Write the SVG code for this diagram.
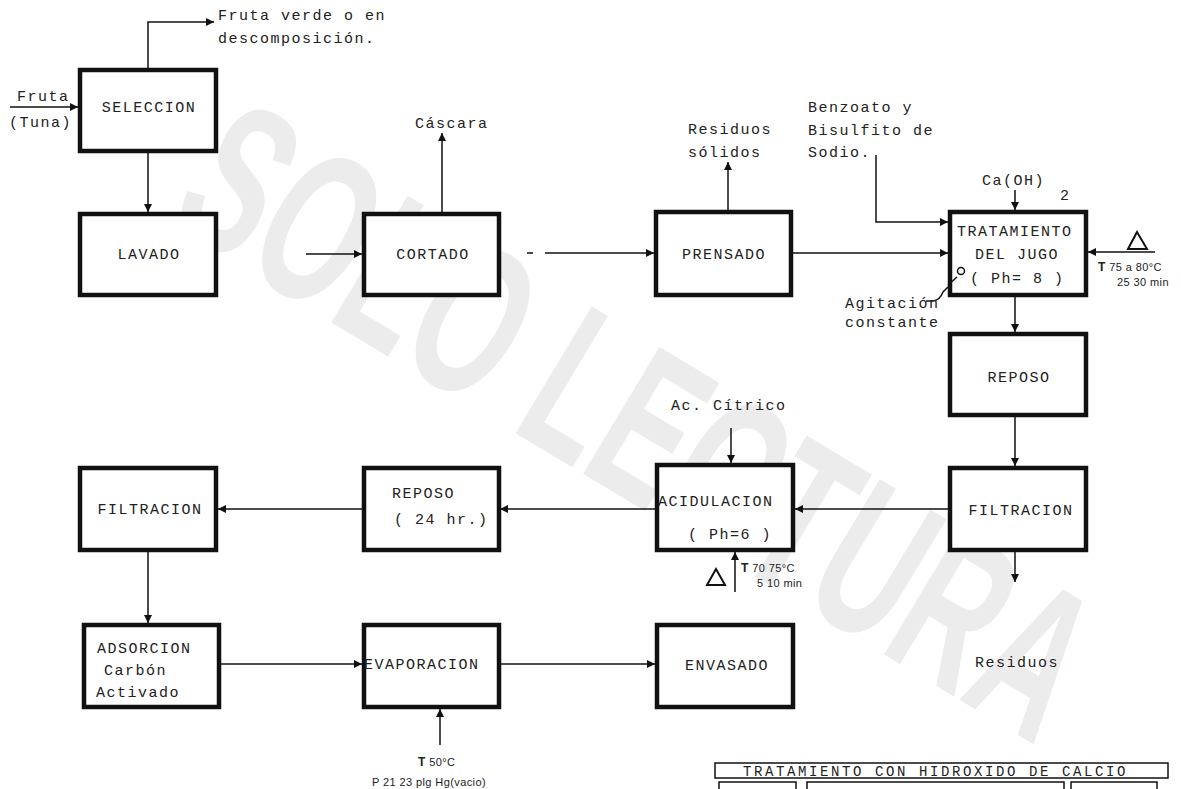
<svg xmlns="http://www.w3.org/2000/svg" width="1181" height="789" viewBox="0 0 1181 789">
<style>
.box{fill:#fff;stroke:#111;stroke-width:4.5}
.ln{fill:none;stroke:#111;stroke-width:1.5}
.t{font-family:"Liberation Mono","Courier New",monospace;font-size:15px;letter-spacing:1.5px;fill:#222}
.m{text-anchor:middle}
.s{font-family:"Liberation Sans",Arial,sans-serif;font-size:11px;letter-spacing:0.4px;fill:#222}
.wm{font-family:"Liberation Sans",Arial,sans-serif;font-weight:bold;font-size:215px;fill:#ececec}
</style>
<defs>
<marker id="ah" viewBox="0 0 10 10" refX="10" refY="5" markerWidth="9" markerHeight="8" markerUnits="userSpaceOnUse" orient="auto">
<path d="M0,0 L10,5 L0,10 z" fill="#111"/>
</marker>
</defs>
<rect width="1181" height="789" fill="#fff"/>
<g id="watermark">
<text class="wm" transform="translate(640,418) rotate(31) scale(0.6,1)" x="0" y="77" text-anchor="middle">SOLO LECTURA</text>
</g>

<g id="connectors">
<line class="ln" x1="10" y1="107" x2="78" y2="107" marker-end="url(#ah)"/>
<polyline class="ln" points="148,68 148,22 214,22" marker-end="url(#ah)"/>
<line class="ln" x1="148" y1="153" x2="148" y2="212" marker-end="url(#ah)"/>
<line class="ln" x1="306" y1="254" x2="362" y2="254" marker-end="url(#ah)"/>
<line class="ln" x1="442" y1="212" x2="442" y2="133" marker-end="url(#ah)"/>
<line class="ln" x1="527" y1="253" x2="533" y2="253"/>
<line class="ln" x1="545" y1="253" x2="654" y2="253" marker-end="url(#ah)"/>
<line class="ln" x1="728" y1="210" x2="728" y2="162" marker-end="url(#ah)"/>
<line class="ln" x1="792" y1="253" x2="948" y2="253" marker-end="url(#ah)"/>
<polyline class="ln" points="876,155 876,222 948,222" marker-end="url(#ah)"/>
<line class="ln" x1="1015" y1="190" x2="1015" y2="210" marker-end="url(#ah)"/>
<line class="ln" x1="1155" y1="252" x2="1088" y2="252" marker-end="url(#ah)"/>
<line class="ln" x1="1015" y1="297" x2="1015" y2="332" marker-end="url(#ah)"/>
<line class="ln" x1="1015" y1="416" x2="1015" y2="466" marker-end="url(#ah)"/>
<line class="ln" x1="1015" y1="552" x2="1015" y2="582" marker-end="url(#ah)"/>
<line class="ln" x1="948" y1="509" x2="795" y2="509" marker-end="url(#ah)"/>
<line class="ln" x1="731" y1="428" x2="731" y2="463" marker-end="url(#ah)"/>
<line class="ln" x1="735" y1="592" x2="735" y2="552" marker-end="url(#ah)"/>
<line class="ln" x1="655" y1="509" x2="500" y2="509" marker-end="url(#ah)"/>
<line class="ln" x1="362" y1="509" x2="218" y2="509" marker-end="url(#ah)"/>
<line class="ln" x1="148" y1="552" x2="148" y2="623" marker-end="url(#ah)"/>
<line class="ln" x1="220" y1="664" x2="362" y2="664" marker-end="url(#ah)"/>
<line class="ln" x1="500" y1="664" x2="655" y2="664" marker-end="url(#ah)"/>
<line class="ln" x1="440" y1="745" x2="440" y2="709" marker-end="url(#ah)"/>
<path class="ln" d="M926,301 L933,301 Q940,300 943,292 L948,287"/>
</g>

<g id="labels">
<text class="t" x="17" y="101">Fruta</text>
<text class="t" x="9" y="127">(Tuna)</text>
<text class="t" x="218" y="20">Fruta verde o en</text>
<text class="t" x="218" y="43">descomposición.</text>
<text class="t" x="415" y="128">Cáscara</text>
<text class="t" x="688" y="134">Residuos</text>
<text class="t" x="688" y="157">sólidos</text>
<text class="t" x="808" y="112">Benzoato y</text>
<text class="t" x="808" y="135">Bisulfito de</text>
<text class="t" x="808" y="157">Sodio.</text>
<text class="t" x="982" y="185">Ca(OH)</text>
<text class="t" x="1060" y="200">2</text>
<polygon points="1137,232 1128,249 1147,249" fill="none" stroke="#111" stroke-width="2"/>
<text class="s" x="1098" y="271"><tspan font-weight="bold" font-size="12">T</tspan> 75 a 80°C</text>
<text class="s" x="1117" y="286">25 30 min</text>
<text class="t" x="845" y="308">Agitación</text>
<text class="t" x="845" y="327">constante</text>
<text class="t" x="671" y="410">Ac. Cítrico</text>
<polygon points="716,569 707,585 725,585" fill="none" stroke="#111" stroke-width="2"/>
<text class="s" x="741" y="572"><tspan font-weight="bold" font-size="12">T</tspan> 70 75°C</text>
<text class="s" x="757" y="587">5 10 min</text>
<text class="t" x="975" y="667">Residuos</text>
<text class="s" x="418" y="766"><tspan font-weight="bold" font-size="12">T</tspan>  50°C</text>
<text class="s" x="372" y="786">P   21  23 plg Hg(vacio)</text>
</g>

<g id="n-seleccion"><rect class="box" x="80" y="70" width="136" height="81"/><text class="t m" x="149" y="112">SELECCION</text></g>
<g id="n-lavado"><rect class="box" x="80" y="214" width="136" height="81"/><text class="t m" x="149" y="259">LAVADO</text></g>
<g id="n-cortado"><rect class="box" x="364" y="214" width="135" height="81"/><text class="t m" x="433" y="259">CORTADO</text></g>
<g id="n-prensado"><rect class="box" x="656" y="212" width="135" height="83"/><text class="t m" x="724" y="259">PRENSADO</text></g>
<g id="n-tratamiento"><rect class="box" x="950" y="212" width="136" height="83"/>
<text class="t" x="957" y="236">TRATAMIENTO</text>
<text class="t" x="975" y="259">DEL JUGO</text>
<text class="t" x="970" y="283">( Ph= 8 )</text>
<path class="ln" d="M948,285 L957,277"/>
<circle cx="961" cy="271" r="3.5" class="ln"/>
</g>
<g id="n-reposo1"><rect class="box" x="950" y="334" width="136" height="81"/><text class="t m" x="1019" y="382">REPOSO</text></g>
<g id="n-filtracion1"><rect class="box" x="950" y="468" width="136" height="82"/><text class="t m" x="1021" y="515">FILTRACION</text></g>
<g id="n-acidulacion"><rect class="box" x="657" y="465" width="136" height="85"/>
<text class="t" x="658" y="506">ACIDULACION</text>
<text class="t" x="688" y="539">( Ph=6 )</text></g>
<g id="n-reposo2"><rect class="box" x="364" y="468" width="135" height="82"/>
<text class="t" x="392" y="498">REPOSO</text>
<text class="t" x="394" y="524">( 24 hr.)</text></g>
<g id="n-filtracion2"><rect class="box" x="80" y="468" width="136" height="82"/><text class="t m" x="150" y="514">FILTRACION</text></g>
<g id="n-adsorcion"><rect class="box" x="84" y="625" width="135" height="82"/>
<text class="t" x="97" y="653">ADSORCION</text>
<text class="t" x="104" y="675">Carbón</text>
<text class="t" x="96" y="697">Activado</text></g>
<g id="n-evaporacion"><rect class="box" x="364" y="625" width="135" height="82"/><text class="t" x="364" y="669">EVAPORACION</text></g>
<g id="n-envasado"><rect class="box" x="657" y="625" width="136" height="82"/><text class="t m" x="727" y="670">ENVASADO</text></g>

<g id="table">
<rect x="715" y="763" width="453" height="15" fill="#fff" stroke="#111" stroke-width="1.5"/>
<text class="t" x="743" y="776" style="font-size:14px;letter-spacing:2.6px">TRATAMIENTO CON HIDROXIDO DE CALCIO</text>
<rect x="719" y="782" width="77" height="20" fill="none" stroke="#111" stroke-width="1.5"/>
<rect x="807" y="782" width="257" height="20" fill="none" stroke="#111" stroke-width="1.5"/>
<rect x="1071" y="782" width="86" height="20" fill="none" stroke="#111" stroke-width="1.5"/>
</g>
</svg>
